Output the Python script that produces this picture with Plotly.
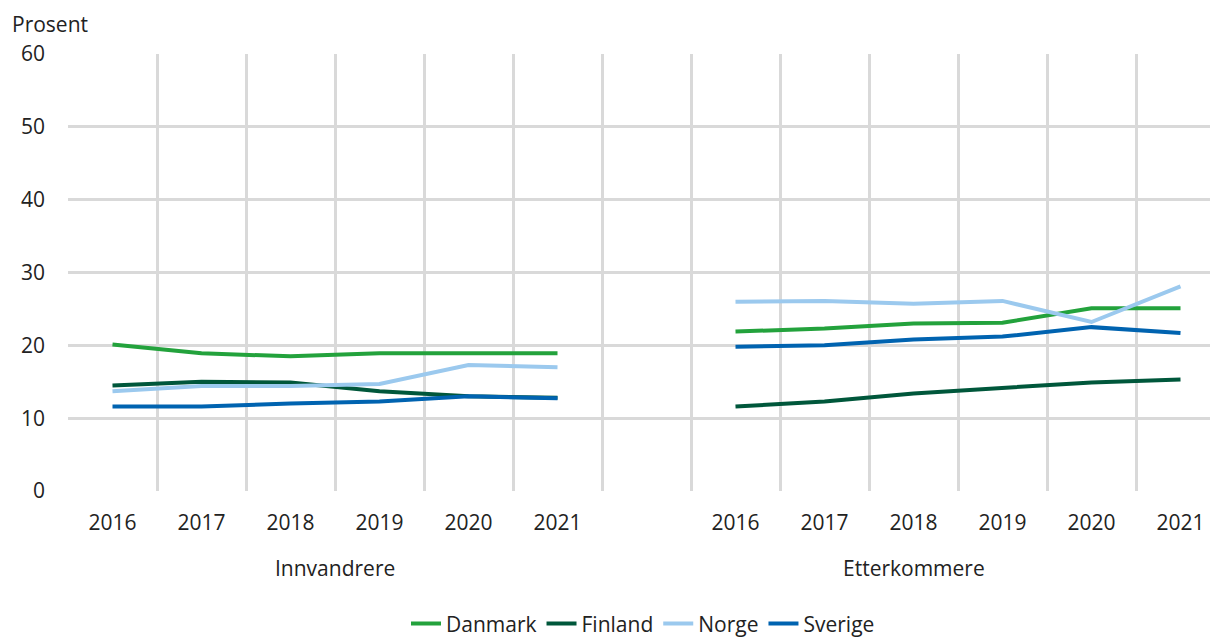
import plotly.graph_objects as go

years = ["2016", "2017", "2018", "2019", "2020", "2021"]
groups = ["Innvandrere", "Etterkommere"]

# values per country: first Innvandrere, then Etterkommere
danmark_innv = [20.1, 18.9, 18.5, 18.9, 18.9, 18.9]
danmark_ett = [21.9, 22.3, 23.0, 23.1, 25.1, 25.1]
finland_innv = [14.5, 15.0, 14.9, 13.7, 13.0, 12.8]
finland_ett = [11.6, 12.3, 13.4, 14.2, 14.9, 15.3]
norge_innv = [13.7, 14.4, 14.4, 14.7, 17.3, 17.0]
norge_ett = [26.0, 26.1, 25.7, 26.1, 23.2, 28.1]
sverige_innv = [11.6, 11.6, 12.0, 12.3, 13.0, 12.75]
sverige_ett = [19.8, 20.0, 20.8, 21.2, 22.5, 21.7]

series = [
    ("Danmark", danmark_innv, danmark_ett, "#23a23c"),
    ("Finland", finland_innv, finland_ett, "#00573b"),
    ("Norge", norge_innv, norge_ett, "#9bc9ee"),
    ("Sverige", sverige_innv, sverige_ett, "#0063b0"),
]

# category positions: 6 years, an empty slot, 6 years
x_innv = [i + 0.5 for i in range(len(years))]
x_ett = [i + 7.5 for i in range(len(years))]

fig = go.Figure()
for name, innv, ett, color in series:
    fig.add_trace(go.Scatter(x=x_innv, y=innv, mode="lines", name=name,
                             line=dict(color=color, width=4), legendgroup=name))
    fig.add_trace(go.Scatter(x=x_ett, y=ett, mode="lines", name=name,
                             line=dict(color=color, width=4), legendgroup=name,
                             showlegend=False))

fig.add_annotation(x=3, y=-0.176, xref="x", yref="paper", text=groups[0],
                   yanchor="middle", showarrow=False)
fig.add_annotation(x=9.5, y=-0.176, xref="x", yref="paper", text=groups[1],
                   yanchor="middle", showarrow=False)
fig.add_annotation(x=-0.0504, y=1.069, xref="paper", yref="paper", text="Prosent",
                   xanchor="left", yanchor="middle", showarrow=False)

# page has an 8px body margin, so the figure is 8px smaller than the window
fig.update_layout(
    width=1210, height=631,
    margin=dict(l=60, r=0, t=46, b=148, autoexpand=False),
    plot_bgcolor="white", paper_bgcolor="white",
    font=dict(family="Open Sans", size=21, color="#222222"),
    legend=dict(orientation="h", x=0.5, xanchor="center", y=0.024,
                yanchor="middle", yref="container", tracegroupgap=0),
    showlegend=True,
)
fig.update_xaxes(
    range=[0, 1150 / 89], showgrid=False, zeroline=False,
    tickvals=x_innv + x_ett, ticktext=years + years,
    ticks="", ticklabelstandoff=17,
    minor=dict(tickvals=list(range(14)), showgrid=True, gridcolor="#d9d9d9",
               gridwidth=2.5),
)
fig.update_yaxes(
    range=[0, 60], dtick=10, showgrid=True, gridcolor="#d9d9d9", gridwidth=2.5,
    zeroline=False, ticks="", ticklabelstandoff=22,
)

fig.write_html("out.html")
